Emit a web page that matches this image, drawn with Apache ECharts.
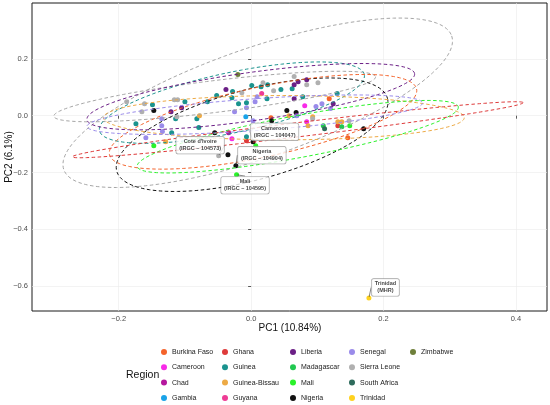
<!DOCTYPE html>
<html>
<head>
<meta charset="utf-8">
<script src="https://cdn.jsdelivr.net/npm/echarts@6/dist/echarts.min.js"></script>
<style>
  html, body { margin: 0; padding: 0; background: #fff; }
  #chart { width: 550px; height: 405px; }
</style>
</head>
<body>
<div id="chart"></div>
<script>
// --- data: PC1 / PC2 scores per region ---
var burkinaFaso = [[0.030, -0.007], [0.118, 0.060], [0.146, -0.078]];
var cameroon = [[0.081, 0.035], [0.084, -0.021], [-0.029, -0.081]];
var chad = [[-0.034, -0.060]];
var gambia = [[-0.008, -0.004]];
var ghana = [[0.131, -0.035], [-0.007, -0.088]];
var guinea = [
  [-0.149, 0.039], [-0.100, 0.049], [-0.066, 0.049], [-0.052, 0.071], [-0.028, 0.085],
  [-0.029, 0.063], [-0.019, 0.042], [-0.007, 0.046], [0.001, 0.106], [0.015, 0.102],
  [0.025, 0.109], [0.024, 0.060], [0.045, 0.092], [0.062, 0.095], [0.078, 0.067],
  [0.130, 0.078], [-0.174, -0.028], [-0.114, -0.011], [-0.082, -0.011], [-0.120, -0.060],
  [-0.079, -0.042], [-0.007, -0.074]
];
var guineaBissau = [[-0.078, 0.000], [-0.129, -0.092], [0.057, 0.000], [0.093, -0.004], [0.086, -0.035], [0.131, -0.021], [0.137, -0.021]];
var guyana = [[0.016, 0.078]];
var liberia = [[-0.121, 0.014], [-0.105, 0.028], [-0.038, 0.092], [0.065, 0.109], [0.071, 0.120], [0.084, 0.127], [0.065, 0.060], [0.124, 0.042]];
var madagascar = [[0.109, -0.035], [0.137, -0.039]];
var mali = [[-0.147, -0.106], [-0.022, -0.208], [0.007, -0.106], [0.149, -0.035]];
var nigeria = [[-0.147, 0.018], [-0.055, -0.060], [-0.035, -0.138], [-0.023, -0.176], [0.003, -0.092], [0.031, -0.018], [0.054, 0.018], [0.068, 0.011], [0.170, -0.046]];
var senegal = [
  [-0.135, -0.011], [-0.135, -0.035], [-0.134, -0.056], [-0.159, -0.078], [-0.025, 0.014],
  [-0.007, 0.028], [0.003, -0.018], [0.006, 0.049], [0.009, 0.067], [0.069, 0.000],
  [0.098, 0.032], [0.107, 0.042], [0.120, 0.025]
];
var sierraLeone = [
  [-0.188, 0.049], [-0.161, 0.042], [-0.165, 0.014], [-0.116, 0.056], [-0.111, 0.056],
  [-0.112, -0.004], [-0.014, 0.081], [0.018, 0.116], [0.034, 0.088], [0.065, 0.138],
  [0.084, 0.109], [0.101, 0.116], [0.093, -0.011], [0.148, -0.018], [-0.049, -0.141]
];
var southAfrica = [[0.111, -0.046]];
var trinidad = [[0.178, -0.642]];
var zimbabwe = [[-0.020, 0.145]];

var regionNames = ['Burkina Faso', 'Cameroon', 'Chad', 'Gambia', 'Ghana', 'Guinea', 'Guinea-Bissau', 'Guyana',
  'Liberia', 'Madagascar', 'Mali', 'Nigeria', 'Senegal', 'Sierra Leone', 'South Africa', 'Trinidad', 'Zimbabwe'];
var regionPoints = [burkinaFaso, cameroon, chad, gambia, ghana, guinea, guineaBissau, guyana,
  liberia, madagascar, mali, nigeria, senegal, sierraLeone, southAfrica, trinidad, zimbabwe];

// ellipses: [pc1 tip A, pc2 tip A, pc1 tip B, pc2 tip B, half width in PC2 units]
var ellipseRegions = ['Sierra Leone', 'Sierra Leone', 'Guinea', 'Liberia', 'Nigeria', 'Guinea-Bissau', 'Mali', 'Burkina Faso', 'Ghana', 'Senegal'];
var ellipseParams = [
  [-0.283, -0.190, 0.303, 0.281, 0.194],
  [-0.298, -0.002, 0.188, 0.137, 0.056],
  [-0.229, -0.053, 0.171, 0.145, 0.106],
  [-0.248, -0.014, 0.247, 0.148, 0.085],
  [-0.203, -0.195, 0.206, 0.061, 0.159],
  [-0.223, -0.007, 0.322, -0.007, 0.078],
  [-0.172, -0.179, 0.313, 0.031, 0.074],
  [-0.214, -0.137, 0.250, 0.094, 0.123],
  [-0.270, -0.145, 0.411, 0.046, 0.025],
  [-0.248, -0.038, 0.259, 0.045, 0.056]
];

// labelled reference accessions
var refNames = ["Cote d'Ivoire\n(IRGC \u2013 104573)", 'Cameroon\n(IRGC \u2013 104047)', 'Nigeria\n(IRGC \u2013 104904)', 'Mali\n(IRGC \u2013 104595)', 'Trinidad\n(MHR)'];
var refPoints = [[-0.049, -0.141], [0.003, -0.092], [-0.023, -0.176], [-0.022, -0.208], [0.178, -0.642]];

var xTicks = [-0.2, 0.0, 0.2, 0.4];
var yTicks = [-0.6, -0.4, -0.2, 0.0, 0.2];

(function() {
  var font = "'Liberation Sans', Arial, sans-serif";
  var colors = ['#F4632B', '#F82AE8', '#B5179E', '#1AA3E8', '#DE3A3A', '#1A938E', '#EDAA45', '#EE3C95',
    '#6B1F86', '#20C850', '#2AF22A', '#111111', '#9A8BEA', '#B0B0B0', '#2E6B5C', '#FFD21F', '#6E7F3A'];
  var ellipseColors = {'Sierra Leone': '#A6A6A6'};
  var labelShift = [[-18.5, -10.5], [21.5, -10], [26, -10.5], [8.5, 10.5], [16.5, -10.5]];

  function tickText(v) {
    return (v < 0 ? '\u2212' : '') + Math.abs(v).toFixed(1);
  }

  function renderEllipse(params, api) {
    var p1 = api.coord([api.value(0), api.value(1)]);
    var p2 = api.coord([api.value(2), api.value(3)]);
    var b = Math.abs(api.size([0, api.value(4)])[1]);
    var cx = (p1[0] + p2[0]) / 2, cy = (p1[1] + p2[1]) / 2;
    var a = Math.sqrt(Math.pow(p2[0] - p1[0], 2) + Math.pow(p2[1] - p1[1], 2)) / 2;
    var ang = Math.atan2(p2[1] - p1[1], p2[0] - p1[0]);
    var ca = Math.cos(ang), sa = Math.sin(ang);
    var pts = [];
    for (var i = 0; i < 160; i++) {
      var t = i / 160 * Math.PI * 2;
      var u = a * Math.cos(t), w = b * Math.sin(t);
      pts.push([cx + u * ca - w * sa, cy + u * sa + w * ca]);
    }
    return {
      type: 'polygon',
      shape: { points: pts },
      style: { fill: null, stroke: api.visual('color'), lineWidth: 1, lineDash: [3.5, 2.5] },
      silent: true
    };
  }

  var series = [];
  regionNames.forEach(function(name, i) {
    series.push({
      type: 'scatter', name: name, data: regionPoints[i], symbolSize: 5,
      itemStyle: { color: colors[i], opacity: 1 }, z: 3, animation: false
    });
  });
  ellipseParams.forEach(function(p, i) {
    var name = ellipseRegions[i];
    series.push({
      type: 'custom', name: name, data: [p], renderItem: renderEllipse,
      itemStyle: { color: ellipseColors[name] || colors[regionNames.indexOf(name)] },
      encode: { x: [0, 2], y: [1, 3] }, z: 4, silent: true, animation: false
    });
  });
  series.push({
    type: 'scatter', name: 'refs',
    data: refPoints.map(function(p, i) { return { value: p, name: refNames[i] }; }),
    symbolSize: 2, itemStyle: { color: 'rgba(0,0,0,0)' }, z: 5, animation: false, silent: true,
    label: {
      show: true, position: 'inside', formatter: '{b}', fontFamily: font, fontSize: 5.5, fontWeight: 'bold',
      color: '#111', lineHeight: 7, align: 'center', backgroundColor: '#fff', borderColor: '#8c8c8c',
      borderWidth: 0.6, borderRadius: 2, padding: [1.5, 3]
    },
    labelLayout: function(params) {
      var s = labelShift[params.dataIndex];
      return { dx: s[0], dy: s[1] };
    },
    labelLine: { show: true, lineStyle: { color: '#333', width: 0.6 } }
  });

  var legendCols = [
    ['Burkina Faso', 'Cameroon', 'Chad', 'Gambia'],
    ['Ghana', 'Guinea', 'Guinea-Bissau', 'Guyana'],
    ['Liberia', 'Madagascar', 'Mali', 'Nigeria'],
    ['Senegal', 'Sierra Leone', 'South Africa', 'Trinidad'],
    ['Zimbabwe']
  ];
  var legendLeft = [161, 222, 290, 349, 410];
  var legends = legendCols.map(function(names, i) {
    return {
      data: names.map(function(n) { return { name: n, icon: 'circle' }; }),
      orient: 'vertical', left: legendLeft[i], top: 347, padding: 0,
      itemWidth: 6, itemHeight: 6, itemGap: 5.3,
      textStyle: { fontFamily: font, fontSize: 7, color: '#1a1a1a', lineHeight: 10 }
    };
  });

  var axisCommon = {
    type: 'value',
    axisLine: { show: false },
    axisTick: { show: true, length: 3, lineStyle: { color: '#333', width: 0.8 } },
    axisLabel: { fontFamily: font, fontSize: 7.5, color: '#4d4d4d', formatter: tickText },
    splitLine: { show: true, lineStyle: { color: '#ebebeb', width: 0.6 } }
  };

  var chart = echarts.init(document.getElementById('chart'), null, { renderer: 'canvas' });
  chart.setOption({
    backgroundColor: '#fff',
    animation: false,
    grid: { left: 32, right: 3, top: 3, bottom: 94, show: true, borderColor: '#1a1a1a', borderWidth: 1, backgroundColor: '#fff' },
    xAxis: echarts.util.merge({
      min: -0.331, max: 0.447,
      axisTick: { customValues: xTicks },
      axisLabel: { customValues: xTicks, margin: 4 }
    }, axisCommon),
    yAxis: echarts.util.merge({
      min: -0.688, max: 0.397,
      axisTick: { customValues: yTicks },
      axisLabel: { customValues: yTicks, margin: 4 }
    }, axisCommon),
    legend: legends,
    graphic: [
      { type: 'text', x: 290, y: 328, style: { text: 'PC1 (10.84%)', fontFamily: font, fontSize: 10, fill: '#111', align: 'center', verticalAlign: 'middle' } },
      { type: 'text', x: 4, y: 157, rotation: Math.PI / 2, style: { text: 'PC2 (6.1%)', fontFamily: font, fontSize: 10, fill: '#111', align: 'center', verticalAlign: 'top' } },
      { type: 'text', x: 126, y: 375, style: { text: 'Region', fontFamily: font, fontSize: 10.5, fill: '#111', verticalAlign: 'middle' } }
    ],
    series: series
  });

  window.addEventListener('resize', function() { chart.resize(); });
})();
</script>
</body>
</html>
